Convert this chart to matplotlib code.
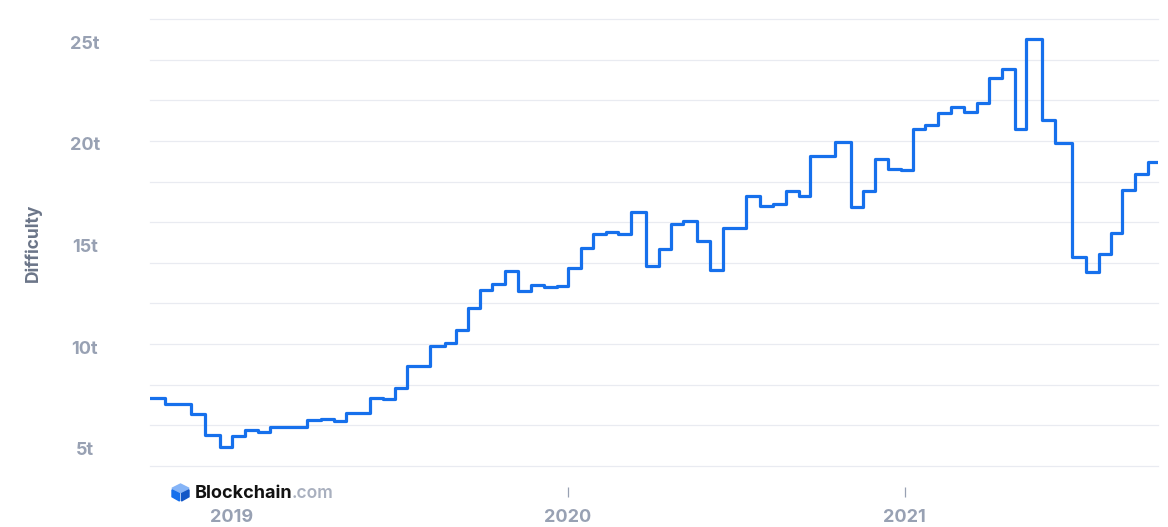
import matplotlib as mpl
mpl.use("Agg")
import matplotlib.pyplot as plt
import matplotlib.transforms as mtransforms
from matplotlib.patches import Polygon
from matplotlib.ticker import MultipleLocator, FixedLocator
import pandas as pd

# --- Datos: cambios de dificultad (fecha del ajuste, valor en T) ---
step_dates = [
    "2018-10-04", "2018-10-20", "2018-11-17", "2018-12-03", "2018-12-19",
    "2019-01-01", "2019-01-15", "2019-01-29", "2019-02-11", "2019-03-24",
    "2019-04-08", "2019-04-22", "2019-05-05", "2019-05-31", "2019-06-14",
    "2019-06-27", "2019-07-10", "2019-08-04", "2019-08-20", "2019-09-01",
    "2019-09-14", "2019-09-27", "2019-10-11", "2019-10-25", "2019-11-08",
    "2019-11-22", "2019-12-06", "2019-12-20", "2020-01-01", "2020-01-15",
    "2020-01-28", "2020-02-11", "2020-02-24", "2020-03-09", "2020-03-26",
    "2020-04-09", "2020-04-22", "2020-05-05", "2020-05-20", "2020-06-03",
    "2020-06-17", "2020-07-12", "2020-07-28", "2020-08-11", "2020-08-25",
    "2020-09-08", "2020-09-20", "2020-10-17", "2020-11-03", "2020-11-16",
    "2020-11-30", "2020-12-14", "2020-12-28", "2021-01-10", "2021-01-23",
    "2021-02-06", "2021-02-20", "2021-03-06", "2021-03-20", "2021-04-02",
    "2021-04-16", "2021-05-01", "2021-05-13", "2021-05-30", "2021-06-13",
    "2021-07-02", "2021-07-17", "2021-07-31", "2021-08-13", "2021-08-25",
    "2021-09-08", "2021-09-22", "2021-10-03",
]
difficulty_t = [
    7.35, 7.07, 6.56, 5.53, 4.95,
    5.49, 5.76, 5.67, 5.92, 6.26,
    6.30, 6.21, 6.61, 7.33, 7.28,
    7.85, 8.94, 9.89, 10.07, 10.68,
    11.79, 12.68, 12.96, 13.61, 12.63,
    12.91, 12.79, 12.87, 13.73, 14.71,
    15.42, 15.50, 15.43, 16.48, 13.83,
    14.66, 15.89, 16.04, 15.07, 13.65,
    15.71, 17.29, 16.81, 16.88, 17.52,
    17.29, 19.26, 19.94, 16.73, 17.55,
    19.11, 18.62, 18.55, 20.57, 20.77,
    21.39, 21.68, 21.44, 21.85, 23.11,
    23.54, 20.58, 25.01, 21.03, 19.88,
    14.30, 13.56, 14.43, 15.48, 17.58,
    18.37, 18.95, 18.95,
]
year_ticks = ["2019-01-01", "2020-01-01", "2021-01-01"]
year_labels = ["2019", "2020", "2021"]
y_ticks = [5, 10, 15, 20, 25]
y_labels = ["5t", "10t", "15t", "20t", "25t"]

LINE = "#1670ec"
GRID = "#e9ebf1"
TICK = "#98a1b3"
LABEL = "#6b7588"

plt.rcParams["font.family"] = ["Inter", "DejaVu Sans"]

fig = plt.figure(figsize=(11.68, 5.27), dpi=100)
fig.patch.set_facecolor("white")
ax = fig.add_axes([150 / 1168, 61 / 527, 1008 / 1168, 447 / 527])

dates = pd.to_datetime(step_dates)
ax.plot(dates, difficulty_t, drawstyle="steps-post", color=LINE,
        linewidth=2.3, solid_joinstyle="round", zorder=3)

ax.set_xlim(pd.Timestamp("2018-10-04"), pd.Timestamp("2021-10-03"))
ax.set_ylim(4, 26)

for s in ax.spines.values():
    s.set_visible(False)
ax.spines["bottom"].set_position(("outward", 15.1))

# grid cada 2t, etiquetas cada 5t
ax.yaxis.set_minor_locator(MultipleLocator(2))
ax.yaxis.set_major_locator(FixedLocator(y_ticks))
ax.set_yticklabels(y_labels)
for yv in range(4, 27, 2):
    ax.axhline(yv, color=GRID, linewidth=0.9, zorder=1, clip_on=False)
ax.tick_params(axis="y", which="both", length=0, pad=47,
               labelsize=13, labelcolor=TICK)
offset = mtransforms.ScaledTranslation(0, -3 / 100, fig.dpi_scale_trans)
for lab in ax.get_yticklabels():
    lab.set_horizontalalignment("center")
    lab.set_fontweight("bold")
    lab.set_transform(lab.get_transform() + offset)

ax.set_xticks(pd.to_datetime(year_ticks))
ax.set_xticklabels(year_labels)
ax.tick_params(axis="x", length=7.2, width=0.9, color=TICK, pad=8.5,
               labelsize=13, labelcolor=TICK)
for lab in ax.get_xticklabels():
    lab.set_fontweight("bold")
ax.xaxis.get_major_ticks()[0].tick1line.set_visible(False)

fig.text(33 / 1168, 1 - 243 / 527, "Difficulty", rotation=90,
         ha="center", va="center", fontsize=12.5, color=LABEL,
         fontweight="bold")

# logo Blockchain.com
cx, cy, r = 180.5, 492.5, 8.5
def P(pts):
    return [((cx + dx) / 1168, 1 - (cy + dy) / 527) for dx, dy in pts]
fig.patches.append(Polygon(P([(0, -r), (r, -r / 2), (0, 0), (-r, -r / 2)]),
                           closed=True, color="#85b4f7", transform=fig.transFigure))
fig.patches.append(Polygon(P([(-r, -r / 2 + 1.5), (-1, 1), (-1, r), (-r, r / 2)]),
                           closed=True, color="#1670ec", transform=fig.transFigure))
fig.patches.append(Polygon(P([(r, -r / 2 + 1.5), (1, 1), (1, r), (r, r / 2)]),
                           closed=True, color="#1257c7", transform=fig.transFigure))
t1 = fig.text(195 / 1168, 1 - 498 / 527, "Blockchain", fontsize=13,
              fontweight="bold", color="#121212", ha="left", va="baseline")
fig.canvas.draw()
bb = t1.get_window_extent()
fig.text((bb.x1 - 1) / 1168, 1 - 498 / 527, ".com", fontsize=12.5,
         fontweight="semibold", color="#a9b0bf", ha="left", va="baseline")

fig.savefig("out.png", dpi=100, facecolor="white")
